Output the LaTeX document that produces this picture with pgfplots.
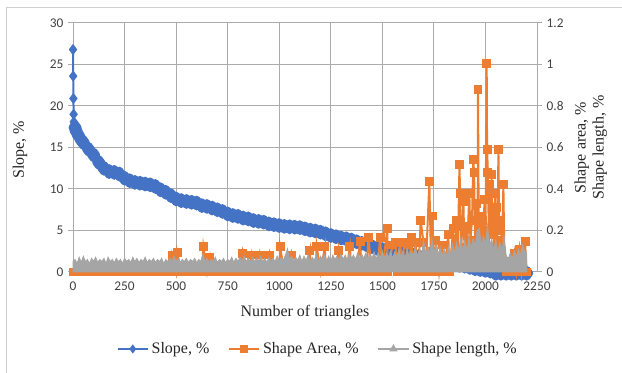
\documentclass[border=0pt]{standalone}
\usepackage{pgfplots}
\pgfplotsset{compat=1.18}
\usepackage{fontspec}
\setmainfont{Liberation Serif}
\newfontfamily\timesf{Liberation Serif}
\newfontfamily\carlito{Carlito}
\definecolor{exblue}{HTML}{4472C4}
\definecolor{exorange}{HTML}{ED7D31}
\definecolor{exgray}{HTML}{A5A5A5}
\definecolor{gridc}{HTML}{ABABAB}
\definecolor{framec}{HTML}{D0D0D0}
\definecolor{labc}{HTML}{404040}
\begin{document}
\begin{tikzpicture}
\useasboundingbox (0,0) rectangle (466.5pt,-279.75pt);
\draw[framec, line width=0.75pt] (4.5pt,-279.75pt) -- (4.5pt,-6pt) -- (466.5pt,-6pt);
\pgfplotsset{
  common/.style={
    at={(54.75pt,-204pt)}, anchor=south west,
    scale only axis, width=348pt, height=186.75pt,
    xmin=0, xmax=2250,
    scaled ticks=false,
    /pgf/number format/1000 sep={},
    /pgf/number format/assume math mode=true,
    tick label style={font=\carlito\fontsize{10}{12}\selectfont, text=labc},
    tick align=outside,
    major tick length=3.75pt,
    clip=false,
    legend image code/.code={\draw[mark repeat=2,mark phase=2,##1, mark size=2.2pt] plot coordinates {(0cm,0cm) (0.4cm,0cm) (0.8cm,0cm)};},
  }
}
% primary axis: slope
\begin{axis}[common,
  ymin=0, ymax=30,
  xtick={0,250,...,2250}, ytick={0,5,...,30},
  grid=major, grid style={gridc, line width=0.75pt},
  axis line style={gridc, line width=0.75pt},
  ytick pos=left,
  xtick style={draw=none},
  ytick style={gridc, line width=0.75pt},
  xlabel={Number of triangles},
  ylabel={Slope, \%},
  every axis x label/.style={at={(axis description cs:0.5,-0.165)}, anchor=center, font=\timesf\fontsize{12}{14}\selectfont, text=black!85},
  every axis y label/.style={at={(axis description cs:-0.114,0.49)}, anchor=center, rotate=90, font=\timesf\fontsize{12}{14}\selectfont, text=black!85},
]
\addplot[exblue, line width=1.5pt, mark=diamond*, mark size=3pt] coordinates {
(0,26.8) (1,23.6) (2,20.9) (3,19.0) (4,18.1) (6,17.8) (10,17.4)
};
\addplot[exblue, line width=5.5pt, line join=round, line cap=round, mark=diamond*, mark size=2.8pt] coordinates {
(10,17.4) (15,17.0) (25,16.5) (40,15.9)
(50,15.6) (75,14.8) (100,14.1) (125,13.2) (150,12.5) (175,12.1) (200,12.0) (225,11.8) (250,11.3) (275,11.0)
(300,10.8) (325,10.7) (350,10.6) (375,10.5) (400,10.3) (425,9.9) (450,9.6) (475,9.2) (500,8.8) (525,8.6)
(550,8.5) (575,8.4) (600,8.3) (625,8.0) (650,7.9) (675,7.7) (700,7.5) (725,7.3) (750,7.0) (775,6.8)
(800,6.7) (825,6.5) (850,6.4) (875,6.2) (900,6.1) (925,6.0) (950,5.8) (975,5.7) (1000,5.6) (1025,5.5)
(1050,5.45) (1075,5.4) (1100,5.35) (1125,5.2) (1150,5.05) (1175,4.95) (1200,4.8) (1225,4.6) (1250,4.4) (1275,4.25)
(1300,4.1) (1325,4.0) (1350,3.85) (1375,3.65) (1400,3.45) (1425,3.25) (1450,3.05) (1475,2.85) (1500,2.7) (1525,2.6)
(1550,2.45) (1575,2.3) (1600,2.2) (1625,2.1) (1650,2.0) (1675,1.85) (1700,1.7) (1725,1.6) (1750,1.45) (1775,1.3)
(1800,1.2) (1825,1.05) (1850,0.95) (1875,0.8) (1900,0.7) (1925,0.55) (1950,0.4) (1975,0.3) (2000,0.2) (2025,0.1)
(2045,0.0) (2050,-0.15) (2075,-0.15) (2100,-0.15) (2125,-0.15) (2150,-0.15) (2175,-0.15) (2200,-0.15)
};
\end{axis}
% secondary axis: shape area
\begin{axis}[common,
  ymin=0, ymax=1.2,
  axis x line=none, axis y line*=right,
  ytick={0,0.2,0.4,0.6,0.8,1,1.2},
  axis line style={gridc, line width=0.75pt},
  ytick style={gridc, line width=0.75pt},
  ylabel={Shape area, \%\\Shape length, \%},
  every axis y label/.style={at={(axis description cs:1.116,0.5)}, anchor=center, rotate=90, align=center, font=\timesf\fontsize{12}{13.5}\selectfont, text=black!85},
]
\addplot[exorange, line width=1.5pt, mark=square*, mark size=2.6pt] coordinates {
(0,0) (25,0) (50,0) (75,0) (100,0) (125,0) (150,0) (175,0) (200,0) (225,0) (250,0) (275,0) (300,0)
(325,0) (350,0) (375,0) (400,0) (425,0) (450,0) (475,0) (480,0.08) (500,0) (505,0.095) (525,0) (550,0)
(575,0) (600,0) (625,0) (632,0.122) (650,0) (664,0.072) (675,0) (700,0) (725,0) (750,0) (775,0) (800,0)
(820,0.09) (825,0) (850,0) (866,0.082) (875,0) (900,0) (907,0.082) (925,0) (950,0) (955,0.082) (975,0)
(1000,0) (1004,0.122) (1025,0) (1050,0) (1060,0.082) (1075,0) (1100,0) (1125,0) (1149,0.105) (1150,0)
(1175,0) (1182,0.122) (1200,0) (1222,0.122) (1225,0) (1250,0) (1275,0) (1287,0.105) (1300,0) (1325,0)
(1343,0.122) (1350,0) (1375,0) (1392,0.146) (1400,0) (1425,0) (1432,0.167) (1450,0) (1475,0) (1489,0.165)
(1500,0) (1524,0.21) (1525,0) (1550,0.13) (1562,0.14) (1575,0) (1586,0.14) (1600,0) (1605,0.14) (1620,0.13)
(1625,0) (1642,0.167) (1650,0) (1660,0.14) (1675,0) (1686,0.247) (1700,0.14) (1710,0) (1728,0.435) (1735,0.1)
(1743,0.27) (1750,0) (1760,0.15) (1775,0) (1790,0.13) (1800,0) (1820,0.18) (1825,0) (1844,0.21) (1850,0.05)
(1861,0.25) (1866,0.08) (1874,0.52) (1877,0.38) (1882,0.1) (1893,0.34) (1898,0.12) (1905,0.22) (1910,0.08)
(1922,0.38) (1927,0.15) (1935,0.25) (1941,0.54) (1945,0.48) (1950,0.14) (1958,0.33) (1962,0.15) (1964,0.88)
(1968,0.1) (1974,0.27) (1979,0.12) (1985,0.25) (1990,0.1) (1995,0.35) (2000,0.15) (2006,1.006) (2008,0.59)
(2012,0.48) (2016,0.2) (2022,0.42) (2026,0.2) (2030,0.47) (2034,0.18) (2038,0.28) (2042,0.12) (2047,0.38)
(2051,0.2) (2055,0.31) (2058,0.15) (2063,0.59) (2067,0.2) (2075,0.25) (2080,0.1) (2087,0.42) (2092,0.05)
(2100,0) (2125,0) (2140,0.09) (2150,0) (2165,0.11) (2175,0) (2192,0.146) (2200,0)
};
\end{axis}
% secondary axis (same scale): shape length, drawn on top
\begin{axis}[common,
  ymin=0, ymax=1.2,
  axis lines=none,
  legend style={at={(axis description cs:0.528,-0.309)}, anchor=center, draw=none, fill=none, font=\timesf\fontsize{12}{14}\selectfont, text=black!85, /tikz/every even column/.append style={column sep=12pt}},
  legend columns=3, legend cell align=left,
]
\addlegendimage{exblue, line width=1.5pt, mark=diamond*}
\addlegendentry{Slope, \%}
\addlegendimage{exorange, line width=1.5pt, mark=square*}
\addlegendentry{Shape Area, \%}
\addplot[exgray, fill=exgray, line width=0.75pt, forget plot] coordinates {
(0,0.05) (10,0.06) (20,0.04) (30,0.07) (40,0.045) (50,0.075) (60,0.05) (70,0.06) (80,0.04) (90,0.065)
(100,0.05) (110,0.07) (120,0.045) (130,0.06) (140,0.05) (150,0.065) (160,0.04) (170,0.07) (180,0.05) (190,0.06)
(200,0.045) (210,0.065) (220,0.05) (230,0.06) (240,0.04) (250,0.065) (260,0.05) (270,0.06) (280,0.045) (290,0.07)
(300,0.05) (310,0.065) (320,0.045) (330,0.06) (340,0.05) (350,0.07) (360,0.045) (370,0.06) (380,0.05) (390,0.065)
(400,0.045) (410,0.06) (420,0.05) (430,0.065) (440,0.04) (450,0.06) (460,0.05) (470,0.065) (480,0.05) (490,0.075)
(500,0.05) (510,0.065) (520,0.045) (530,0.06) (540,0.05) (550,0.065) (560,0.045) (570,0.06) (580,0.05) (590,0.065)
(600,0.045) (610,0.06) (620,0.05) (630,0.085) (640,0.05) (650,0.065) (660,0.045) (670,0.06) (680,0.05) (690,0.07)
(700,0.045) (710,0.06) (720,0.05) (730,0.065) (740,0.045) (750,0.06) (760,0.05) (770,0.07) (780,0.045) (790,0.065)
(800,0.05) (810,0.07) (820,0.05) (830,0.075) (840,0.05) (850,0.065) (860,0.045) (870,0.07) (880,0.05) (890,0.065)
(900,0.05) (910,0.075) (920,0.05) (930,0.065) (940,0.045) (950,0.07) (960,0.05) (970,0.065) (980,0.05) (990,0.075)
(1000,0.05) (1010,0.07) (1020,0.055) (1030,0.08) (1040,0.11) (1050,0.06) (1060,0.075) (1070,0.05) (1080,0.07) (1090,0.055)
(1100,0.08) (1110,0.05) (1120,0.075) (1130,0.055) (1140,0.08) (1150,0.05) (1160,0.07) (1170,0.055) (1180,0.085) (1190,0.05)
(1200,0.075) (1210,0.06) (1220,0.08) (1230,0.055) (1240,0.075) (1250,0.05) (1260,0.08) (1270,0.06) (1280,0.075) (1290,0.055)
(1300,0.085) (1310,0.06) (1320,0.08) (1330,0.055) (1340,0.09) (1350,0.06) (1360,0.08) (1370,0.06) (1380,0.09) (1390,0.06)
(1400,0.085) (1410,0.065) (1420,0.09) (1430,0.06) (1440,0.085) (1450,0.065) (1460,0.095) (1470,0.06) (1480,0.09) (1490,0.065)
(1500,0.1) (1510,0.065) (1520,0.09) (1530,0.07) (1540,0.1) (1550,0.065) (1560,0.095) (1570,0.07) (1580,0.11) (1590,0.07)
(1600,0.1) (1610,0.065) (1620,0.11) (1630,0.07) (1640,0.1) (1650,0.075) (1660,0.12) (1670,0.07) (1680,0.11) (1690,0.08)
(1700,0.15) (1710,0.08) (1720,0.12) (1730,0.08) (1740,0.16) (1750,0.09) (1760,0.13) (1770,0.08) (1780,0.12) (1790,0.075)
(1800,0.11) (1810,0.07) (1820,0.12) (1830,0.08) (1840,0.13) (1850,0.09) (1860,0.14) (1870,0.1) (1880,0.16) (1890,0.1)
(1900,0.15) (1910,0.1) (1920,0.17) (1930,0.11) (1940,0.16) (1950,0.12) (1960,0.2) (1970,0.21) (1980,0.12) (1990,0.17)
(2000,0.13) (2010,0.22) (2020,0.12) (2030,0.16) (2040,0.1) (2050,0.15) (2060,0.09) (2070,0.14) (2080,0.1) (2090,0.17)
(2100,0.08) (2110,0.06) (2120,0.09) (2130,0.06) (2140,0.1) (2150,0.07) (2160,0.11) (2170,0.08) (2180,0.13) (2190,0.1)
(2200,0.09)
} \closedcycle;
\addlegendimage{exgray, line width=1.5pt, mark=triangle*}
\addlegendentry{Shape length, \%}
\end{axis}
\end{tikzpicture}
\end{document}
